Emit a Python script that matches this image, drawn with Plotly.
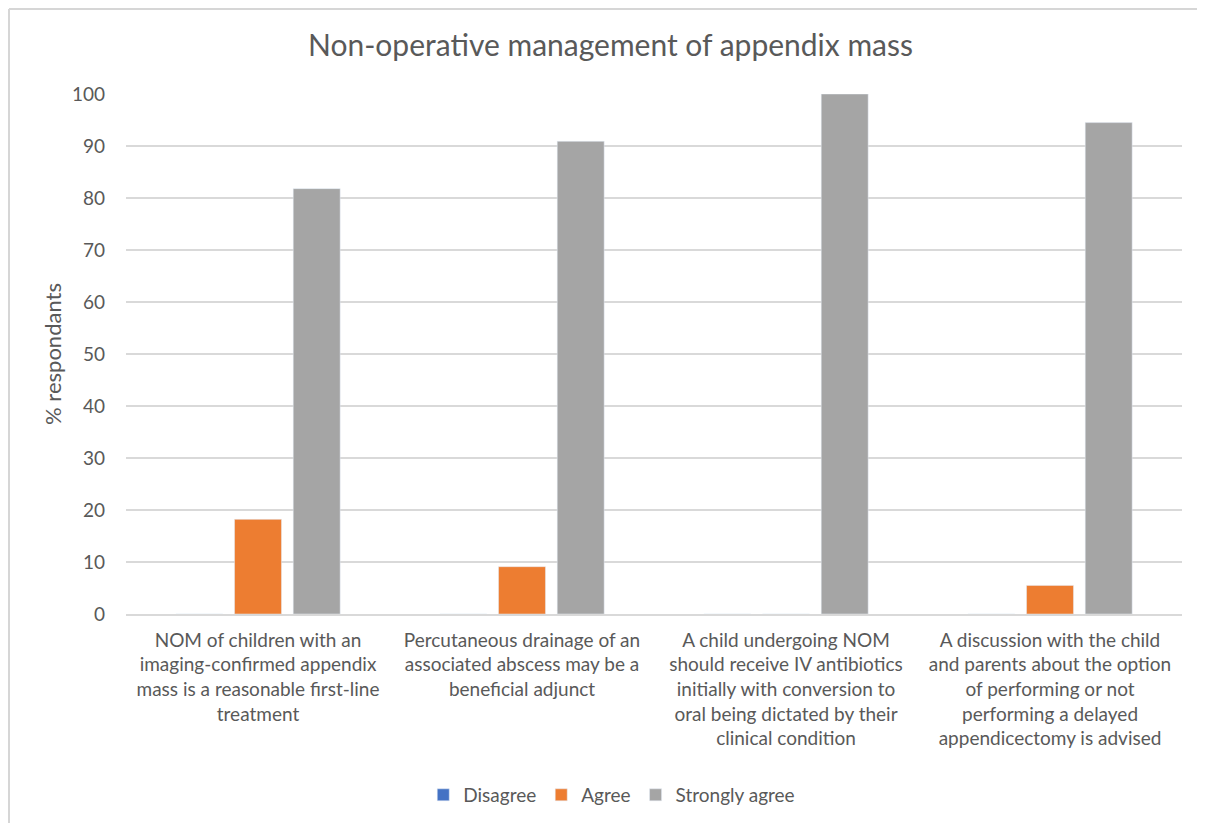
import plotly.graph_objects as go

# --- DATA ---
statements = [
    "NOM of children with an<br>imaging-confirmed appendix<br>mass is a reasonable first-line<br>treatment",
    "Percutaneous drainage of an<br>associated abscess may be a<br>beneficial adjunct",
    "A child undergoing NOM<br>should receive IV antibiotics<br>initially with conversion to<br>oral being dictated by their<br>clinical condition",
    "A discussion with the child<br>and parents about the option<br>of performing or not<br>performing a delayed<br>appendicectomy is advised",
]
disagree = [0, 0, 0, 0]
agree = [18.2, 9.1, 0, 5.5]
strongly_agree = [81.8, 90.9, 100, 94.5]

FONT = "Lato, 'Open Sans', sans-serif"
GREY_TEXT = "#595959"

fig = go.Figure([
    go.Bar(name="Disagree", x=statements, y=disagree, marker_color="#4472c4"),
    go.Bar(name="Agree", x=statements, y=agree, marker_color="#ed7d31"),
    go.Bar(name="Strongly agree", x=statements, y=strongly_agree, marker_color="#a5a5a5"),
])

fig.update_layout(
    width=1205,
    height=823,
    paper_bgcolor="white",
    plot_bgcolor="white",
    barmode="group",
    bargap=0.333,
    bargroupgap=0.2,
    margin=dict(l=118, r=31, t=86, b=217),
    font=dict(family=FONT, color=GREY_TEXT, size=19),
    title=dict(
        text="Non-operative management of appendix mass",
        x=0.5, xanchor="center", y=0.955, yanchor="middle",
        font=dict(size=30, color=GREY_TEXT),
    ),
    legend=dict(
        orientation="h", x=0.46, xanchor="center", y=-0.348, yanchor="middle",
        font=dict(size=19), traceorder="normal", itemwidth=30,
    ),
    yaxis=dict(
        range=[0, 100], dtick=10, showgrid=True, gridcolor="#d9d9d9", gridwidth=1.5,
        zeroline=False, showline=False, ticks="", ticklabelstandoff=20,
        tickfont=dict(size=19),
        title=dict(text="% respondants", font=dict(size=22), standoff=4),
    ),
    xaxis=dict(
        showline=True, linecolor="#d9d9d9", linewidth=1.5, ticks="",
        tickfont=dict(size=19), tickangle=0, ticklabelstandoff=8,
    ),
)

# Excel-style chart border (top and left edges visible)
fig.add_shape(type="line", xref="paper", yref="paper",
              x0=-0.1108, x1=1.1, y0=1.1635, y1=1.1635,
              line=dict(color="#d6d6d6", width=2))
fig.add_shape(type="line", xref="paper", yref="paper",
              x0=-0.1108, x1=-0.1108, y0=1.1635, y1=-0.5,
              line=dict(color="#d6d6d6", width=2))

fig.write_html("out.html")
